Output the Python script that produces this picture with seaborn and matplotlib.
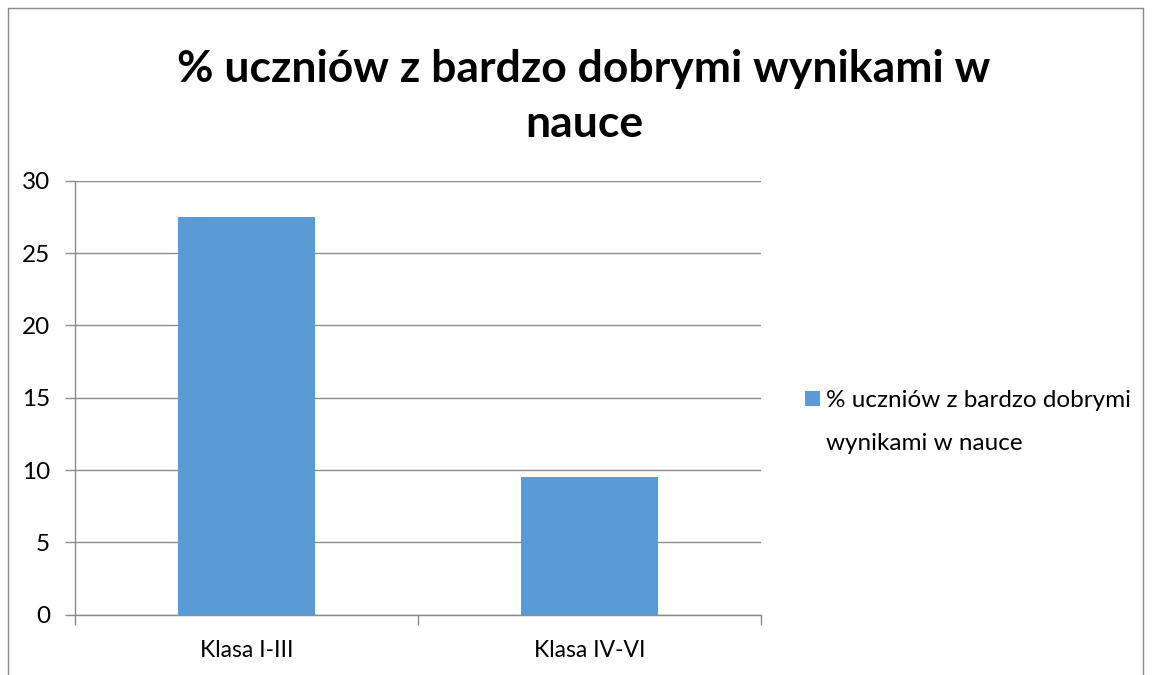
import matplotlib
matplotlib.use("Agg")
import matplotlib.pyplot as plt
import seaborn as sns
import pandas as pd
from matplotlib.patches import Patch
from matplotlib.lines import Line2D

categories = ["Klasa I-III", "Klasa IV-VI"]
values = [27.5, 9.5]
series_name = "% uczniów z bardzo dobrymi wynikami w nauce"
legend_lines = ["% uczniów z bardzo dobrymi", "wynikami w nauce"]
title = "% uczniów z bardzo dobrymi wynikami w\nnauce"
yticks = [0, 5, 10, 15, 20, 25, 30]

sns.set_theme(style="white")
plt.rcParams['font.family'] = ['Lato', 'DejaVu Sans']
plt.rcParams['text.color'] = 'black'

df = pd.DataFrame({"cat": categories, "val": values})
fig = plt.figure(figsize=(11.52, 6.75), dpi=100)
ax = fig.add_axes([75/1152, 1-614.7/675, (761-75)/1152, (614.7-180.7)/675])

color = "#5B9BD5"
sns.barplot(data=df, x="cat", y="val", color=color, width=0.4, ax=ax,
            saturation=1, edgecolor="none", zorder=3)

grid_c = "#8C8C8C"
ax.set_ylim(0, 30)
ax.set_xlim(-0.5, 1.5)
ax.set_yticks(yticks)
ax.yaxis.grid(True, color=grid_c, linewidth=1.0, zorder=0)
ax.set_axisbelow(True)
ax.tick_params(axis="y", length=7, width=1, color=grid_c, labelsize=17.5, pad=11,
               left=True, labelcolor="black")
ax.set_xticks([-0.5, 0.5, 1.5])
ax.set_xticklabels([])
ax.set_xticks([0, 1], minor=True)
ax.set_xticklabels(categories, minor=True)
ax.tick_params(axis="x", which="major", length=7, width=1, color=grid_c, direction="out", bottom=True)
ax.tick_params(axis="x", which="minor", length=0, labelsize=16.5, pad=18, labelcolor="black")
for s in ["top", "right"]:
    ax.spines[s].set_visible(False)
for s in ["left", "bottom"]:
    ax.spines[s].set_color(grid_c)
    ax.spines[s].set_linewidth(1.0)
ax.set_xlabel("")
ax.set_ylabel("")

fig.text(0.507, 0.857, title, ha="center", va="center", fontsize=32,
         fontweight="bold", linespacing=1.43, color="black")

handle = Patch(facecolor=color, edgecolor="none")
leg = fig.legend([handle], [legend_lines[0]],
                 loc="upper left", bbox_to_anchor=(805/1152, 1-390/675),
                 frameon=False, fontsize=17.5, handlelength=0.62, handleheight=0.62,
                 handletextpad=0.25, borderaxespad=0, borderpad=0)

fig.canvas.draw()
renderer = fig.canvas.get_renderer()
bb = leg.get_texts()[0].get_window_extent(renderer)
x0 = bb.x0 / fig.bbox.width
ybot = bb.y0 / fig.bbox.height
fig.text(x0, ybot - 22/675, legend_lines[1], ha="left", va="top", fontsize=17.5, color="black")

# chart frame
for xs, ys in [([8/1152, 8/1152], [0, 1-8/675]),
               ([8/1152, 1143/1152], [1-8/675, 1-8/675]),
               ([1143/1152, 1143/1152], [0, 1-8/675])]:
    fig.add_artist(Line2D(xs, ys, transform=fig.transFigure, color="#8C8C8C", linewidth=1))

fig.savefig("out.png", dpi=100)
